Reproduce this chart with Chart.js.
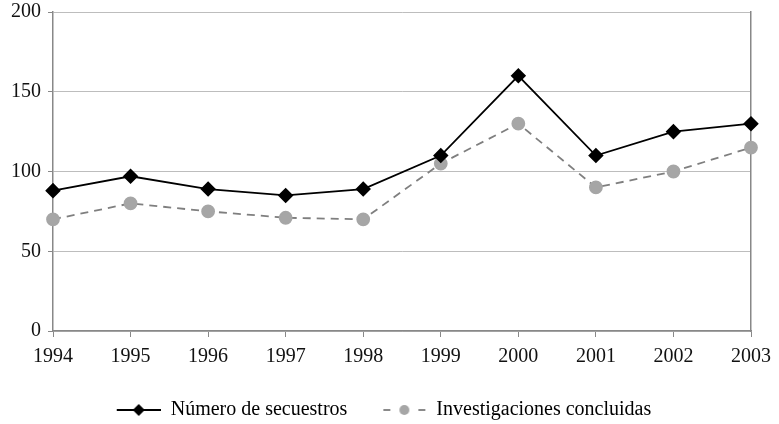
<!DOCTYPE html>
<html>
<head>
<meta charset="utf-8">
<script src="https://cdn.jsdelivr.net/npm/chart.js@4"></script>
<style>
  html, body { margin: 0; padding: 0; background: #fff; }
  #wrap { width: 779px; height: 424px; position: relative; }
</style>
</head>
<body>
<div id="wrap"><canvas id="chart"></canvas></div>
<script>
const years = ['1994', '1995', '1996', '1997', '1998', '1999', '2000', '2001', '2002', '2003'];
const secuestros = [88, 97, 89, 85, 89, 110, 160, 110, 125, 130];
const investigaciones = [70, 80, 75, 71, 70, 105, 130, 90, 100, 115];
const seriesNames = ['Número de secuestros', 'Investigaciones concluidas'];

const serif = "'Liberation Serif', 'DejaVu Serif', serif";

// small legend icon: line segment with the marker in the middle
// (left 12px kept empty so the two legend items sit further apart)
function legendIcon(color, dashed, shape) {
    const c = document.createElement('canvas');
    c.width = 56; c.height = 14;
    const g = c.getContext('2d');
    const x0 = 12, mid = 34;
    g.strokeStyle = color;
    g.lineWidth = 2;
    if (dashed) {
        g.beginPath();
        g.moveTo(x0 + 1, 7); g.lineTo(x0 + 8, 7);
        g.moveTo(x0 + 36, 7); g.lineTo(x0 + 43, 7);
        g.stroke();
    } else {
        g.beginPath();
        g.moveTo(x0, 7); g.lineTo(56, 7);
        g.stroke();
    }
    if (shape === 'diamond') {
        g.fillStyle = color;
        g.beginPath();
        g.moveTo(mid, 1); g.lineTo(mid + 6, 7); g.lineTo(mid, 13); g.lineTo(mid - 6, 7);
        g.closePath(); g.fill();
    } else {
        g.fillStyle = '#a6a6a6';
        g.beginPath();
        g.arc(mid, 7, 5, 0, Math.PI * 2);
        g.fill();
    }
    return c;
}

const icons = [legendIcon('#000', false, 'diamond'), legendIcon('#8a8a8a', true, 'circle')];

new Chart(document.getElementById('chart'), {
    type: 'line',
    data: {
        labels: years,
        datasets: [{
            label: seriesNames[0],
            data: secuestros,
            borderColor: '#000',
            backgroundColor: '#000',
            borderWidth: 1.8,
            pointStyle: 'rectRot',
            pointRadius: 6.5,
            pointHoverRadius: 6.5,
            tension: 0
        }, {
            label: seriesNames[1],
            data: investigaciones,
            borderColor: '#7f7f7f',
            backgroundColor: '#a6a6a6',
            pointBorderColor: '#a6a6a6',
            borderWidth: 1.8,
            borderDash: [8, 6],
            pointStyle: 'circle',
            pointRadius: 6,
            pointHoverRadius: 6,
            tension: 0
        }]
    },
    options: {
        responsive: true,
        maintainAspectRatio: false,
        animation: false,
        layout: { padding: { left: 4, right: 27, top: 5, bottom: -6 } },
        plugins: {
            tooltip: { enabled: false },
            legend: {
                position: 'bottom',
                labels: {
                    color: '#111',
                    font: { family: serif, size: 20 },
                    usePointStyle: true,
                    pointStyleWidth: 56,
                    boxHeight: 14,
                    padding: 23,
                    generateLabels: (chart) => chart.data.datasets.map((ds, i) => ({
                        text: ds.label,
                        pointStyle: icons[i],
                        datasetIndex: i,
                        hidden: false,
                        lineWidth: 0,
                        strokeStyle: 'transparent',
                        fillStyle: 'transparent'
                    }))
                }
            }
        },
        scales: {
            x: {
                offset: false,
                grid: { display: true, drawOnChartArea: false, drawTicks: true, tickLength: 6, color: '#888' },
                border: { color: '#888', width: 1.5 },
                ticks: { color: '#111', font: { family: serif, size: 20 }, maxRotation: 0, padding: 8 }
            },
            y: {
                min: 0,
                max: 200,
                ticks: { stepSize: 50, color: '#111', font: { family: serif, size: 20, lineHeight: 0.5 }, padding: 7 },
                grid: { color: '#bdbdbd', lineWidth: 1, tickLength: 5, tickColor: '#888' },
                border: { color: '#888', width: 1.5 }
            },
            yRight: {
                position: 'right',
                min: 0,
                max: 200,
                ticks: { display: false },
                grid: { display: false, drawTicks: false },
                border: { color: '#888', width: 1.5 }
            }
        }
    }
});
</script>
</body>
</html>
